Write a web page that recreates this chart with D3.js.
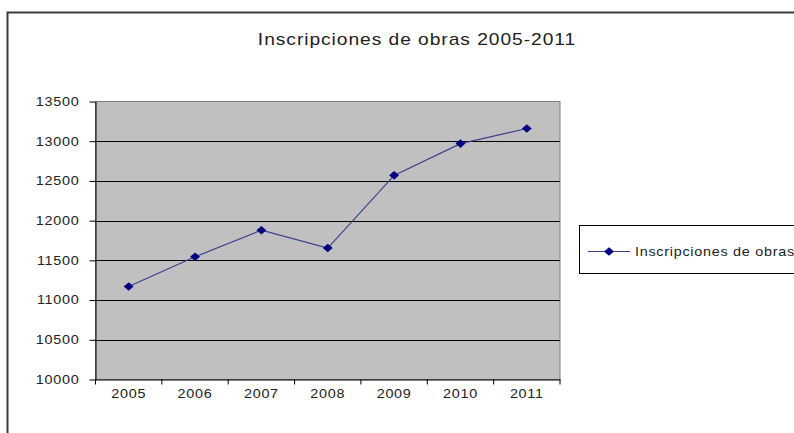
<!DOCTYPE html>
<html>
<head>
<meta charset="utf-8">
<script src="https://cdn.jsdelivr.net/npm/d3@7"></script>
<style>
  body { margin: 0; background: #fff; }
  text { font-family: "Liberation Sans", Arial, sans-serif; fill: #000; }
</style>
</head>
<body>
<svg width="794" height="433"></svg>
<script>
const years = ['2005', '2006', '2007', '2008', '2009', '2010', '2011'];
const inscripciones = [11170, 11545, 11880, 11655, 12570, 12970, 13160];
const yTicks = [10000, 10500, 11000, 11500, 12000, 12500, 13000, 13500];
const seriesName = 'Inscripciones de obras';
const chartTitle = 'Inscripciones de obras 2005-2011';

const svg = d3.select('svg');
const stretch = 1.2; // the picture's text is wide, so stretch it a bit

// outer chart frame (runs off right and bottom)
svg.append('path')
  .attr('d', 'M7.5,440 V12.5 H800')
  .attr('fill', 'none')
  .attr('stroke', '#3a3a3a')
  .attr('stroke-width', 2);

// title
svg.append('text')
  .attr('transform', `translate(417,45) scale(${stretch},1)`)
  .attr('text-anchor', 'middle')
  .style('font-size', '16px')
  .style('letter-spacing', '0.8px')
  .style('fill', '#222')
  .text(chartTitle);

const x = d3.scaleBand().domain(years).range([95.5, 560]);
const y = d3.scaleLinear().domain([10000, 13500]).range([379.5, 101.5]);

// plot area
svg.append('rect')
  .attr('x', x.range()[0])
  .attr('y', y(13500))
  .attr('width', x.range()[1] - x.range()[0])
  .attr('height', y(10000) - y(13500))
  .attr('fill', '#c0c0c0')
  .attr('stroke', '#808080');

// gridlines
svg.append('g')
  .selectAll('line')
  .data(yTicks.filter(d => d > 10000 && d < 13500))
  .join('line')
  .attr('x1', x.range()[0])
  .attr('x2', x.range()[1])
  .attr('y1', d => Math.round(y(d)) + 0.5)
  .attr('y2', d => Math.round(y(d)) + 0.5)
  .attr('stroke', '#000');

// y axis
const yAxis = svg.append('g')
  .attr('transform', `translate(${x.range()[0]},0)`)
  .call(d3.axisLeft(y).tickValues(yTicks).tickFormat(d3.format('d')).tickSize(6).tickSizeOuter(0));
yAxis.select('.domain').attr('stroke', '#000');
yAxis.selectAll('.tick text')
  .attr('x', null)
  .attr('dy', '0.32em')
  .attr('transform', `translate(-16,0) scale(${stretch},1)`)
  .style('font-size', '12px')
  .style('letter-spacing', '0.6px')
  .style('fill', '#222')
  .style('font-family', '"Liberation Sans", Arial, sans-serif');

// x axis
const xAxis = svg.append('g')
  .attr('transform', `translate(0,${y(10000)})`)
  .call(d3.axisBottom(x).tickSize(0).tickSizeOuter(0));
xAxis.select('.domain').attr('stroke', '#000');
xAxis.selectAll('.tick text')
  .attr('y', null)
  .attr('dy', null)
  .attr('transform', `translate(0,18) scale(${stretch},1)`)
  .style('font-size', '12px')
  .style('letter-spacing', '0.6px')
  .style('fill', '#222')
  .style('font-family', '"Liberation Sans", Arial, sans-serif');

// x ticks on category boundaries
xAxis.append('g')
  .selectAll('line')
  .data(years.map(d => x(d)).concat([x.range()[1]]))
  .join('line')
  .attr('x1', d => d)
  .attr('x2', d => d)
  .attr('y1', 0)
  .attr('y2', 5)
  .attr('stroke', '#000');

// series line and markers
const cx = (d, i) => x(years[i]) + x.bandwidth() / 2;
const diamond = d3.symbol().type(d3.symbolDiamond).size(55);
const squash = 'scale(1.25,0.62)';

svg.append('path')
  .datum(inscripciones)
  .attr('d', d3.line().x(cx).y(d => y(d)))
  .attr('fill', 'none')
  .attr('stroke', '#3f3f8f')
  .attr('stroke-width', 1.2);

svg.append('g')
  .selectAll('path')
  .data(inscripciones)
  .join('path')
  .attr('d', diamond)
  .attr('transform', (d, i) => `translate(${cx(d, i)},${y(d)}) ${squash}`)
  .attr('fill', '#000080');

// legend
const legend = svg.append('g');
legend.append('rect')
  .attr('x', 579.5)
  .attr('y', 225.5)
  .attr('width', 240)
  .attr('height', 48)
  .attr('fill', '#fff')
  .attr('stroke', '#000');
legend.append('line')
  .attr('x1', 588)
  .attr('x2', 630)
  .attr('y1', 251.5)
  .attr('y2', 251.5)
  .attr('stroke', '#3f3f8f')
  .attr('stroke-width', 1.2);
legend.append('path')
  .attr('d', diamond)
  .attr('transform', `translate(609,251.5) ${squash}`)
  .attr('fill', '#000080');
legend.append('text')
  .attr('transform', `translate(635,255.5) scale(${stretch},1)`)
  .style('font-size', '12px')
  .style('letter-spacing', '0.6px')
  .style('fill', '#222')
  .text(seriesName);
</script>
</body>
</html>
